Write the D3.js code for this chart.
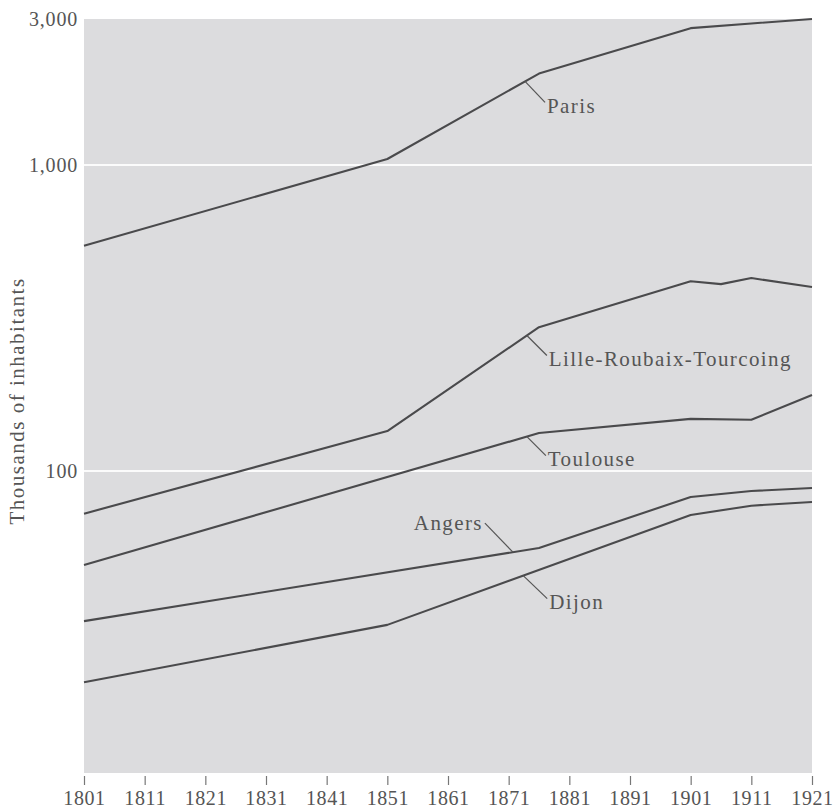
<!DOCTYPE html>
<html>
<head>
<meta charset="utf-8">
<script src="https://cdn.jsdelivr.net/npm/d3@7/dist/d3.min.js"></script>
<style>
  html, body { margin: 0; padding: 0; background: #fff; }
  svg { display: block; }
  text { font-family: "Liberation Serif", "DejaVu Serif", serif; fill: #555; }
</style>
</head>
<body>
<svg id="chart" width="839" height="811"></svg>
<script>
// Census years and city populations (thousands of inhabitants)
const parisYears   = [1801, 1851, 1876, 1901, 1911, 1921];
const parisValues  = [545, 1046, 1990, 2800, 2900, 3000];

const lilleYears   = [1801, 1851, 1876, 1901, 1906, 1911, 1921];
const lilleValues  = [72.5, 135, 295, 417, 408, 427, 399];

const toulouseYears  = [1801, 1876, 1901, 1911, 1921];
const toulouseValues = [49.3, 133, 148, 147, 177];

const angersYears  = [1801, 1876, 1901, 1911, 1921];
const angersValues = [32.3, 56, 82.2, 86, 88];

const dijonYears   = [1801, 1851, 1901, 1911, 1921];
const dijonValues  = [20.4, 31.4, 71.8, 77, 79.2];

const xTickYears   = [1801, 1811, 1821, 1831, 1841, 1851, 1861, 1871, 1881, 1891, 1901, 1911, 1921];
const yTickValues  = [100, 1000, 3000];
const yGridValues  = [100, 1000];

const yAxisTitle = "Thousands of inhabitants";

// Series labels with a short leader line from the curve
const labelNames   = ["Paris", "Lille-Roubaix-Tourcoing", "Toulouse", "Angers", "Dijon"];
const labelAtYear  = [1873.7, 1874, 1874, 1871.7, 1873.4];

const series = [
  { name: "Paris", years: parisYears, values: parisValues },
  { name: "Lille-Roubaix-Tourcoing", years: lilleYears, values: lilleValues },
  { name: "Toulouse", years: toulouseYears, values: toulouseValues },
  { name: "Angers", years: angersYears, values: angersValues },
  { name: "Dijon", years: dijonYears, values: dijonValues }
];

const plot = { left: 84, right: 812, top: 19, bottom: 773 };

const x = d3.scaleLinear().domain([1801, 1921]).range([plot.left, plot.right]);
const y = d3.scaleLog().domain([10.3, 3000]).range([plot.bottom, plot.top]);

const svg = d3.select("#chart");

// plot background
svg.append("rect")
  .attr("x", plot.left).attr("y", plot.top)
  .attr("width", plot.right - plot.left)
  .attr("height", plot.bottom - plot.top)
  .attr("fill", "#dcdcde");

// white horizontal gridlines
svg.append("g").selectAll("line")
  .data(yGridValues).join("line")
  .attr("x1", plot.left).attr("x2", plot.right)
  .attr("y1", d => y(d)).attr("y2", d => y(d))
  .attr("stroke", "#fbfbfb").attr("stroke-width", 2);

// x axis
const xAxis = d3.axisBottom(x)
  .tickValues(xTickYears)
  .tickFormat(d3.format("d"))
  .tickSize(9)
  .tickSizeOuter(0)
  .tickPadding(6);
const gx = svg.append("g")
  .attr("transform", `translate(0,${plot.bottom + 3})`)
  .call(xAxis);
gx.select(".domain").remove();
gx.selectAll(".tick line").attr("stroke", "#777").attr("stroke-width", 1.2);
gx.selectAll(".tick text")
  .attr("font-size", 20)
  .attr("fill", "#555")
  .style("font-family", '"Liberation Serif", serif')
  .attr("letter-spacing", 0.6);

// y axis labels
const yAxis = d3.axisLeft(y)
  .tickValues(yTickValues)
  .tickFormat(d3.format(","))
  .tickSize(0)
  .tickPadding(6);
const gy = svg.append("g")
  .attr("transform", `translate(${plot.left},0)`)
  .call(yAxis);
gy.select(".domain").remove();
gy.selectAll(".tick text")
  .attr("font-size", 20)
  .attr("fill", "#555")
  .style("font-family", '"Liberation Serif", serif')
  .attr("letter-spacing", 0.8);

// y axis title
svg.append("text")
  .attr("transform", `translate(24,${(277 + 525) / 2}) rotate(-90)`)
  .attr("text-anchor", "middle")
  .attr("font-size", 21)
  .attr("letter-spacing", 1.5)
  .text(yAxisTitle);

// lines
const line = d3.line()
  .x(d => x(d[0]))
  .y(d => y(d[1]));

svg.append("g").selectAll("path")
  .data(series).join("path")
  .attr("d", s => line(s.years.map((yr, i) => [yr, s.values[i]])))
  .attr("fill", "none")
  .attr("stroke", "#4a4a4c")
  .attr("stroke-width", 2.1)
  .attr("stroke-linejoin", "round");

// value on a series at a given year (log-linear between census points)
function valueAt(s, yr) {
  for (let i = 0; i < s.years.length - 1; i++) {
    if (yr >= s.years[i] && yr <= s.years[i + 1]) {
      const t = (yr - s.years[i]) / (s.years[i + 1] - s.years[i]);
      return Math.exp(Math.log(s.values[i]) * (1 - t) + Math.log(s.values[i + 1]) * t);
    }
  }
  return s.values[s.values.length - 1];
}

// leader offsets and label placement
const leaderDx = [20, 20, 19, -28, 24];
const leaderDy = [21, 20, 19, -29, 23];

const labels = svg.append("g");
labelNames.forEach((name, i) => {
  const s = series.find(d => d.name === name);
  const px = x(labelAtYear[i]);
  const py = y(valueAt(s, labelAtYear[i]));
  const ex = px + leaderDx[i];
  const ey = py + leaderDy[i];
  labels.append("line")
    .attr("x1", px).attr("y1", py)
    .attr("x2", ex).attr("y2", ey)
    .attr("stroke", "#555").attr("stroke-width", 1.2);
  const left = leaderDx[i] < 0;
  labels.append("text")
    .attr("x", left ? ex - 2 : ex + 2)
    .attr("y", ey + (left ? -1 : 3))
    .attr("dy", "0.35em")
    .attr("text-anchor", left ? "end" : "start")
    .attr("font-size", 21)
    .attr("letter-spacing", 1.4)
    .text(name);
});
</script>
</body>
</html>
